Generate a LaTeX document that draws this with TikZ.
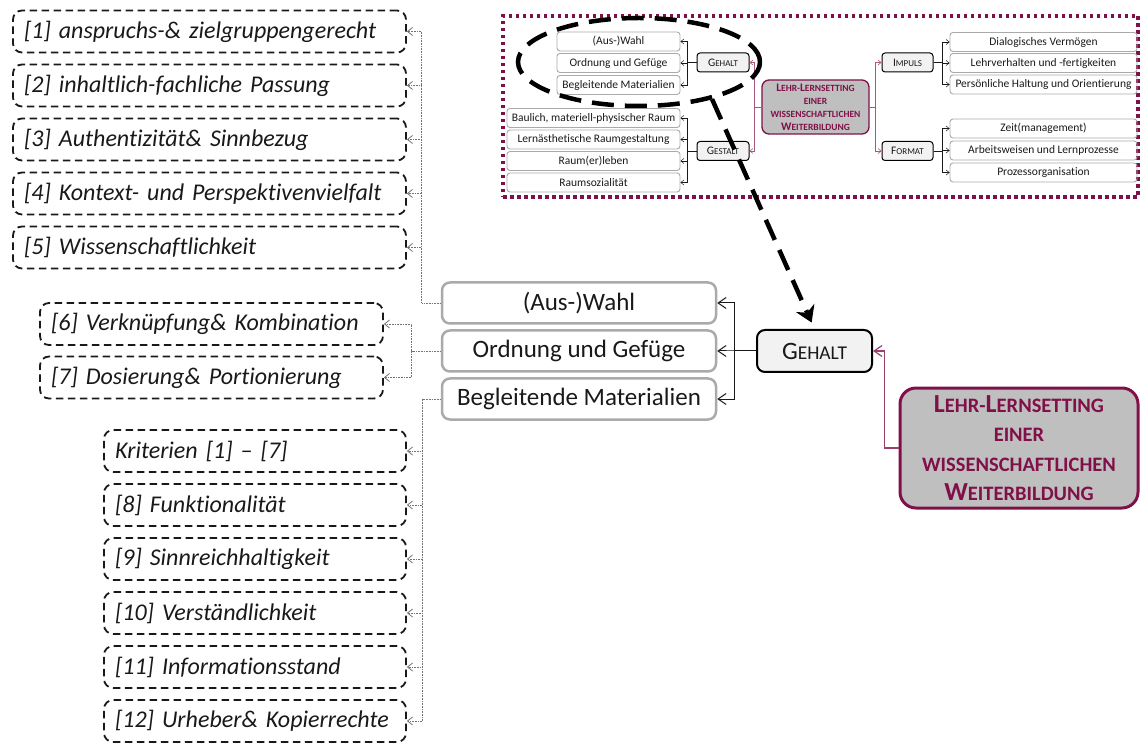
\documentclass[tikz,border=0pt]{standalone}
\usepackage{fontspec}
\setmainfont{Carlito}[Ligatures={TeX,NoCommon}]
\usetikzlibrary{arrows.meta,shapes.geometric}
\definecolor{berry}{RGB}{128,16,72}
\definecolor{boxgray}{RGB}{170,170,170}
\definecolor{leadfill}{RGB}{191,191,191}
\definecolor{keyfill}{RGB}{242,242,242}
\definecolor{ink}{RGB}{25,25,25}
% fake small caps: a capital at size #1
\newcommand\Kap[2]{{\fontsize{#1}{#1}\selectfont #2}}
\begin{document}
\begin{tikzpicture}[x=1pt,y=-1pt,
  crit/.style={draw=ink, line width=1.8pt, dash pattern=on 7.5pt off 4.5pt,
    rounded corners=9pt, minimum height=42pt, inner xsep=11pt, inner ysep=0pt,
    align=left, font=\fontsize{24}{28}\selectfont\itshape, text=ink},
  critA/.style={crit, text width=371pt},
  critB/.style={crit, text width=321pt},
  critC/.style={crit, text width=280pt},
  item/.style={draw=boxgray, line width=2.5pt, rounded corners=8pt,
    minimum width=274pt, minimum height=41pt, inner sep=0pt,
    font=\fontsize{25}{28}\selectfont, text=ink},
  key/.style={draw=black, fill=keyfill, line width=2pt, rounded corners=8pt,
    minimum width=115pt, minimum height=42pt, inner sep=0pt, text=ink,
    font=\fontsize{19.5}{22}\selectfont},
  lead/.style={draw=berry, fill=leadfill, line width=3pt, rounded corners=16pt,
    minimum width=238pt, minimum height=120pt, inner sep=0pt, align=center,
    text=berry, font=\fontsize{20.5}{29.5}\selectfont\bfseries},
  sitem/.style={draw=boxgray, line width=0.9pt, rounded corners=3pt,
    minimum height=19pt, inner sep=0pt, font=\fontsize{11.5}{13}\selectfont, text=ink},
  skey/.style={draw=black, fill=keyfill, line width=1pt, rounded corners=3pt,
    minimum width=52pt, minimum height=19pt, inner sep=0pt, text=ink,
    font=\fontsize{9}{11}\selectfont},
  slead/.style={draw=berry, fill=leadfill, line width=1.3pt, rounded corners=7pt,
    minimum width=107pt, minimum height=54pt, inner sep=0pt, align=center,
    text=berry, font=\fontsize{9.5}{13}\selectfont\bfseries},
  overview/.style={draw=berry, line width=3.5pt, dash pattern=on 3.5pt off 3.5pt,
    minimum width=635pt, minimum height=181pt, inner sep=0pt},
  focus/.style={ellipse, draw=black, line width=4.5pt, dash pattern=on 22pt off 11pt,
    minimum width=242pt, minimum height=88pt, inner sep=0pt},
  link/.style={draw=ink, line width=1pt, -{Straight Barb[length=8pt,width=11pt]}},
  berrylink/.style={draw=berry!80, line width=1.2pt, -{Straight Barb[length=8pt,width=11pt]}},
  hint/.style={draw=black!55, line width=0.8pt, dash pattern=on 0.8pt off 0.8pt,
    -{Straight Barb[length=5pt,width=8pt]}},
  slink/.style={draw=ink, line width=0.5pt, -{Straight Barb[length=3pt,width=5pt]}},
  sberry/.style={draw=berry!70, line width=0.6pt, -{Straight Barb[length=3pt,width=5pt]}},
  zoomarrow/.style={draw=black, line width=4.5pt, dash pattern=on 22pt off 11pt,
    -{Stealth[length=16pt,width=20pt]}, shorten >=7pt}
]
\useasboundingbox (0,0) rectangle (1141,743);

% ---------- overview map ----------
\node[overview] (frame) at (820.5,106.5) {};

\node[sitem, minimum width=123pt] (sAus) at (618.5,41.5) {(Aus-)Wahl};
\node[sitem, minimum width=123pt] (sOrd) at (618.5,63) {Ordnung und Gefüge};
\node[sitem, minimum width=123pt] (sBeg) at (618.5,85) {Begleitende Materialien};

\node[sitem, minimum width=173pt] (sBau) at (593.5,118) {Baulich, materiell-physischer Raum};
\node[sitem, minimum width=173pt] (sLer) at (593.5,139.5) {Lernästhetische Raumgestaltung};
\node[sitem, minimum width=173pt] (sErl) at (593.5,161) {Raum(er)leben};
\node[sitem, minimum width=173pt] (sSoz) at (593.5,182.5) {Raumsozialität};

\node[skey] (sGehalt) at (723,62.5) {\Kap{11.5}{G}EHALT};
\node[skey] (sGestalt) at (723,151) {\Kap{11.5}{G}ESTALT};

\node[slead] (sLehr) at (815.5,107) {\Kap{11.5}{L}EHR-\Kap{11.5}{L}ERNSETTING\\EINER\\WISSENSCHAFTLICHEN\\\Kap{11.5}{W}EITERBILDUNG};

\node[skey, minimum width=51pt] (sImpuls) at (907.5,62.5) {\Kap{11.5}{I}MPULS};
\node[skey, minimum width=51pt] (sFormat) at (907.5,151) {\Kap{11.5}{F}ORMAT};

\node[sitem, minimum width=187pt] (sDia) at (1043.5,42) {Dialogisches Vermögen};
\node[sitem, minimum width=187pt] (sLeh) at (1043.5,63) {Lehrverhalten und -fertigkeiten};
\node[sitem, minimum width=187pt] (sPer) at (1043.5,84.5) {Persönliche Haltung und Orientierung};
\node[sitem, minimum width=187pt] (sZei) at (1043.5,128.5) {Zeit(management)};
\node[sitem, minimum width=187pt] (sArb) at (1043.5,150.5) {Arbeitsweisen und Lernprozesse};
\node[sitem, minimum width=187pt] (sPro) at (1043.5,172.5) {Prozessorganisation};

\foreach \t in {sAus,sOrd,sBeg}
  \draw[slink] (sGehalt.west) -- ++(-9,0) |- (\t.east);
\foreach \t in {sBau,sLer,sErl,sSoz}
  \draw[slink] (sGestalt.west) -- ++(-9,0) |- (\t.east);
\foreach \t in {sDia,sLeh,sPer}
  \draw[slink] (sImpuls.east) -- ++(9,0) |- (\t.west);
\foreach \t in {sZei,sArb,sPro}
  \draw[slink] (sFormat.east) -- ++(9,0) |- (\t.west);
\foreach \t in {sGehalt,sGestalt}
  \draw[sberry] (sLehr.west) -- ++(-7,0) |- (\t.east);
\foreach \t in {sImpuls,sFormat}
  \draw[sberry] (sLehr.east) -- ++(6,0) |- (\t.west);

% ---------- detail: Gehalt ----------
\node[item] (mAus) at (579,303) {(Aus-)Wahl};
\node[item] (mOrd) at (579,351) {Ordnung und Gefüge};
\node[item] (mBeg) at (579,399) {Begleitende Materialien};

\node[key] (mGehalt) at (814.5,351) {\Kap{25}{G}EHALT};

\node[lead] (mLehr) at (1019,448) {\Kap{26}{L}EHR-\Kap{26}{L}ERNSETTING\\EINER\\WISSENSCHAFTLICHEN\\\Kap{26}{W}EITERBILDUNG};

\foreach \t in {mAus,mOrd,mBeg}
  \draw[link] (mGehalt.west) -- ++(-22,0) |- (\t.east);
\draw[berrylink] (mLehr.west) -- ++(-14,0) |- (mGehalt.east);

% criteria
\node[critA] (c1) at (209.5,31.5) {[1] anspruchs-\& zielgruppengerecht};
\node[critA] (c2) at (209.5,85.5) {[2] inhaltlich-fachliche Passung};
\node[critA] (c3) at (209.5,139.5) {[3] Authentizität\& Sinnbezug};
\node[critA] (c4) at (209.5,193.5) {[4] Kontext- und Perspektivenvielfalt};
\node[critA] (c5) at (209.5,247.5) {[5] Wissenschaftlichkeit};

\node[critB] (c6) at (211.5,324) {[6] Verknüpfung\& Kombination};
\node[critB] (c7) at (211.5,377.5) {[7] Dosierung\& Portionierung};

\node[critC] (k0) at (255,451) {Kriterien [1] – [7]};
\node[critC] (c8) at (255,505) {[8] Funktionalität};
\node[critC] (c9) at (255,559) {[9] Sinnreichhaltigkeit};
\node[critC] (c10) at (255,613) {[10] Verständlichkeit};
\node[critC] (c11) at (255,667) {[11] Informationsstand};
\node[critC] (c12) at (255,721) {[12] Urheber\& Kopierrechte};

\foreach \t in {c1,c2,c3,c4,c5}
  \draw[hint] (mAus.west) -- ++(-19,0) |- (\t.east);
\foreach \t in {c6,c7}
  \draw[hint] (mOrd.west) -- ++(-29,0) |- (\t.east);
\foreach \t in {k0,c8,c9,c10,c11,c12}
  \draw[hint] (mBeg.west) -- ++(-18,0) |- (\t.east);

% ---------- zoom marker ----------
\node[focus] (zone) at (639,62) {};
\draw[zoomarrow] (zone.-27) -- (mGehalt.north);
\end{tikzpicture}
\end{document}
